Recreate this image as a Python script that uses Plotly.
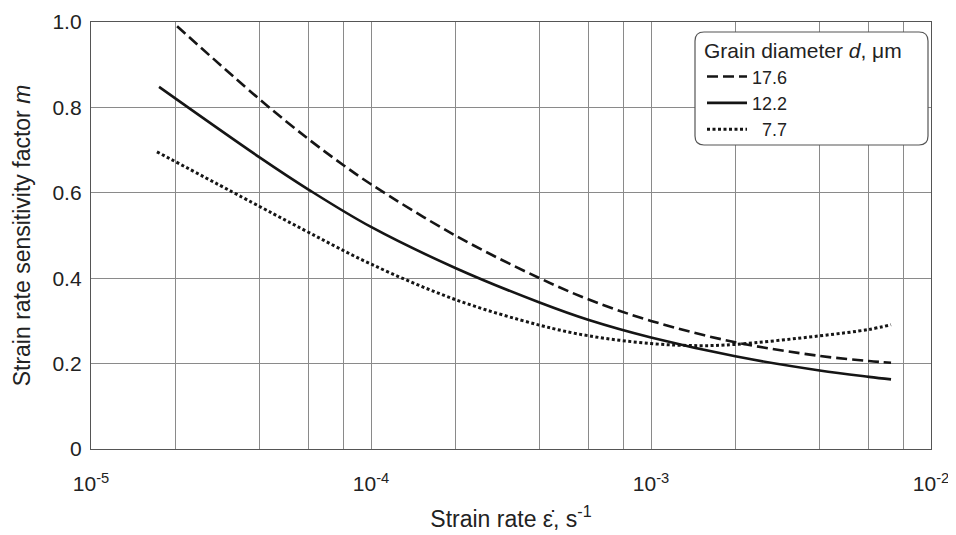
import plotly.graph_objects as go

# ---- data ----
x_176 = [2.03e-5, 4e-5, 6e-5, 8e-5, 1e-4, 2e-4, 4e-4, 6e-4, 1e-3, 2e-3, 4e-3, 6e-3, 7.2e-3]
m_176 = [0.99, 0.819, 0.725, 0.664, 0.62, 0.50, 0.40, 0.35, 0.30, 0.25, 0.218, 0.206, 0.202]

x_122 = [1.75e-5, 4e-5, 6e-5, 1e-4, 2e-4, 4e-4, 6e-4, 1e-3, 2e-3, 4e-3, 6e-3, 7.2e-3]
m_122 = [0.848, 0.683, 0.607, 0.52, 0.424, 0.343, 0.302, 0.261, 0.217, 0.184, 0.169, 0.163]

x_77 = [1.72e-5, 4e-5, 6e-5, 1e-4, 2e-4, 4e-4, 6e-4, 1e-3, 1.5e-3, 2e-3, 4e-3, 6e-3, 7.2e-3]
m_77 = [0.696, 0.568, 0.507, 0.433, 0.35, 0.29, 0.265, 0.247, 0.242, 0.245, 0.265, 0.28, 0.291]

series_names = ["17.6", "12.2", "\u20077.7"]
legend_title = "Grain diameter <i>d</i>, \u03bcm"

x_major = [1e-5, 1e-4, 1e-3, 1e-2]
x_major_text = ["10<sup>-5</sup>", "10<sup>-4</sup>", "10<sup>-3</sup>", "10<sup>-2</sup>"]
x_minor = [2e-5, 4e-5, 6e-5, 8e-5, 2e-4, 4e-4, 6e-4, 8e-4, 2e-3, 4e-3, 6e-3, 8e-3]
y_tickvals = [0, 0.2, 0.4, 0.6, 0.8, 1.0]
y_ticktext = ["0", "0.2", "0.4", "0.6", "0.8", "1.0"]

x_title = "Strain rate \u03b5\u0307, s<sup>-1</sup>"
y_title = "Strain rate sensitivity factor <i>m</i>"

FONT = "Liberation Sans, Arial, sans-serif"
INK = "#151515"
GRID = "#8a8a8a"

fig = go.Figure()
fig.add_trace(go.Scatter(x=x_176, y=m_176, mode="lines", name=series_names[0],
                         line=dict(color=INK, width=2.6, dash="11px,5px", shape="spline", smoothing=1.0)))
fig.add_trace(go.Scatter(x=x_122, y=m_122, mode="lines", name=series_names[1],
                         line=dict(color=INK, width=2.6, shape="spline", smoothing=1.0)))
fig.add_trace(go.Scatter(x=x_77, y=m_77, mode="lines", name=series_names[2],
                         line=dict(color=INK, width=3, dash="3px,2.5px", shape="spline", smoothing=1.0)))

OFF = 8  # page body margin
W, H = 956, 535
# target plot area in page pixels: x 91..931, y 22..449
L = 91 - OFF
T = 22 - OFF
R = W + OFF - 931
B = H + OFF - 449
pw, ph = W - L - R, H - T - B

def px2paper(xp, yp):
    return (xp - 91) / pw, (449 - yp) / ph

x0, y1 = px2paper(695, 32)
x1, y0 = px2paper(928, 145)
rx, ry = 9 / pw, 9 / ph
path = (f"M{x0+rx},{y0} L{x1-rx},{y0} Q{x1},{y0} {x1},{y0+ry} L{x1},{y1-ry} "
        f"Q{x1},{y1} {x1-rx},{y1} L{x0+rx},{y1} Q{x0},{y1} {x0},{y1-ry} "
        f"L{x0},{y0+ry} Q{x0},{y0} {x0+rx},{y0} Z")
fig.add_shape(type="path", path=path, xref="paper", yref="paper",
              line=dict(color="#555", width=1.2), fillcolor="white", layer="above")

lx, ly = px2paper(702, 31)
fig.update_layout(
    width=W, height=H,
    margin=dict(l=L, r=R, t=T, b=B, autoexpand=False),
    paper_bgcolor="white", plot_bgcolor="white",
    font=dict(family=FONT, color="#222", size=20),
    showlegend=True,
    legend=dict(x=lx, y=ly, xanchor="left", yanchor="top",
                bgcolor="rgba(0,0,0,0)", borderwidth=0,
                font=dict(family=FONT, size=18, color="#222"),
                title=dict(text=legend_title, font=dict(family=FONT, size=21, color="#222")),
                tracegroupgap=0, itemwidth=40),
    xaxis=dict(type="log", range=[-5, -2], automargin=False,
               tickmode="array", tickvals=x_major, ticktext=x_major_text,
               showgrid=True, gridcolor=GRID, gridwidth=1,
               minor=dict(tickmode="array", tickvals=x_minor, showgrid=True,
                          gridcolor=GRID, gridwidth=1, ticks=""),
               showline=True, linecolor="#555", linewidth=1.3, mirror=True,
               ticks="", ticklabelstandoff=16,
               tickfont=dict(family=FONT, size=21, color="#222"),
               title=dict(text=x_title, font=dict(family=FONT, size=23, color="#222"), standoff=16),
               zeroline=False),
    yaxis=dict(range=[0, 1.0], automargin=False,
               tickmode="array", tickvals=y_tickvals, ticktext=y_ticktext,
               showgrid=True, gridcolor=GRID, gridwidth=1,
               showline=True, linecolor="#555", linewidth=1.3, mirror=True,
               ticks="", ticklabelstandoff=4,
               tickfont=dict(family=FONT, size=21, color="#222"),
               title=dict(text=y_title, font=dict(family=FONT, size=23, color="#222"), standoff=15),
               zeroline=False),
)

fig.write_html("out.html")
